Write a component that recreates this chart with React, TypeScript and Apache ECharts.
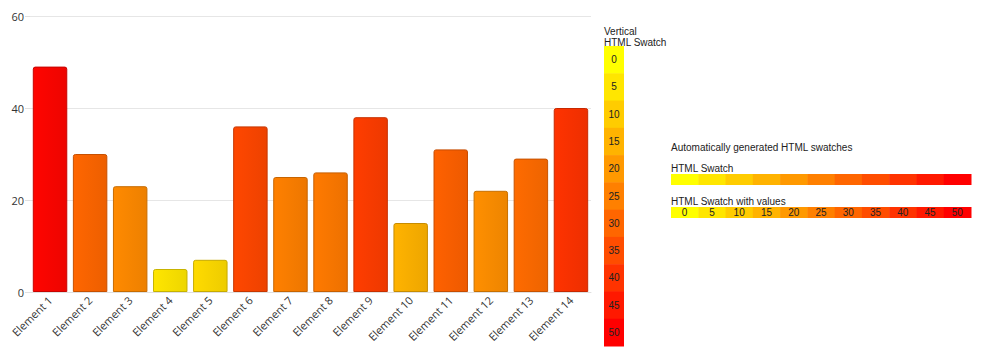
import React, { useEffect, useRef } from "react";
import * as echarts from "echarts";

const categories = [
  "Element 1", "Element 2", "Element 3", "Element 4", "Element 5", "Element 6", "Element 7",
  "Element 8", "Element 9", "Element 10", "Element 11", "Element 12", "Element 13", "Element 14",
];
const values = [49, 30, 23, 5, 7, 36, 25, 26, 38, 15, 31, 22, 29, 40];
const swatchValues = [0, 5, 10, 15, 20, 25, 30, 35, 40, 45, 50];
const yTicks = [0, 20, 40, 60];
const domainMin = 0;
const domainMax = 50;

function rgbOf(v: number): [number, number, number] {
  const t = Math.max(0, Math.min(1, (v - domainMin) / (domainMax - domainMin)));
  return [255, Math.round(255 * (1 - t)), 0];
}
function hex(c: [number, number, number]) {
  return "#" + c.map((x) => Math.max(0, Math.min(255, Math.round(x))).toString(16).padStart(2, "0")).join("");
}
function shade(c: [number, number, number], f: number): [number, number, number] {
  return [c[0] * f, c[1] * f, c[2] * f];
}

export default function App() {
  const ref = useRef<HTMLDivElement>(null);
  useEffect(() => {
    if (!ref.current) return;
    const chart = echarts.init(ref.current, null, { renderer: "svg" });
    const legendFont = "10px 'Liberation Sans', Arial, sans-serif";
    const cell = 300 / swatchValues.length;
    const graphics: any[] = [];
    // vertical swatch
    graphics.push({ type: "text", x: 604, y: 26, style: { text: "Vertical\nHTML Swatch", font: legendFont, fill: "#222", lineHeight: 11, textVerticalAlign: "top" } });
    swatchValues.forEach((v, i) => {
      graphics.push({ type: "rect", shape: { x: 604, y: 46 + i * cell, width: 20, height: cell + 0.5 }, style: { fill: hex(rgbOf(v)) } });
      graphics.push({ type: "text", x: 614, y: 46 + i * cell + cell / 2, style: { text: String(v), font: legendFont, fill: "#222", textAlign: "center", textVerticalAlign: "middle" } });
    });
    // horizontal swatches
    graphics.push({ type: "text", x: 671, y: 142, style: { text: "Automatically generated HTML swatches", font: legendFont, fill: "#222", textVerticalAlign: "top" } });
    graphics.push({ type: "text", x: 671, y: 163, style: { text: "HTML Swatch", font: legendFont, fill: "#222", textVerticalAlign: "top" } });
    graphics.push({ type: "text", x: 671, y: 196, style: { text: "HTML Swatch with values", font: legendFont, fill: "#222", textVerticalAlign: "top" } });
    swatchValues.forEach((v, i) => {
      graphics.push({ type: "rect", shape: { x: 671 + i * cell, y: 174, width: cell + 0.5, height: 11 }, style: { fill: hex(rgbOf(v)) } });
      graphics.push({ type: "rect", shape: { x: 671 + i * cell, y: 207, width: cell + 0.5, height: 11 }, style: { fill: hex(rgbOf(v)) } });
      graphics.push({ type: "text", x: 671 + i * cell + cell / 2, y: 212.5, style: { text: String(v), font: legendFont, fill: "#222", textAlign: "center", textVerticalAlign: "middle" } });
    });

    chart.setOption({
      animation: false,
      grid: { left: 30, right: 392, top: 16, bottom: 70, containLabel: false },
      xAxis: {
        type: "category",
        data: categories,
        axisLine: { lineStyle: { color: "#e0e0e0" } },
        axisTick: { alignWithLabel: true, length: 5, lineStyle: { color: "#e0e0e0" } },
        axisLabel: { rotate: 45, color: "#333", fontFamily: "'Open Sans', sans-serif", fontSize: 11, margin: 6, interval: 0 },
      },
      yAxis: {
        type: "value",
        min: yTicks[0],
        max: yTicks[yTicks.length - 1],
        interval: 20,
        axisLine: { show: false },
        axisTick: { show: true, length: 5, lineStyle: { color: "#e0e0e0" } },
        splitLine: { lineStyle: { color: "#e6e6e6" } },
        axisLabel: { color: "#333", fontFamily: "'Open Sans', sans-serif", fontSize: 11, margin: 6 },
      },
      series: [
        {
          type: "bar",
          barCategoryGap: "14%",
          data: values.map((v) => {
            const c = rgbOf(v);
            return {
              value: v,
              itemStyle: {
                color: new echarts.graphic.LinearGradient(0, 0, 1, 0, [
                  { offset: 0, color: hex(c) },
                  { offset: 1, color: hex(shade(c, 0.93)) },
                ]),
                borderColor: hex(shade(c, 0.78)),
                borderWidth: 1,
                borderRadius: [2, 2, 0, 0],
              },
            };
          }),
        },
      ],
      graphic: graphics,
    });
    return () => chart.dispose();
  }, []);
  return <div ref={ref} style={{ position: "absolute", left: 0, top: 0, width: 983, height: 362 }} />;
}
